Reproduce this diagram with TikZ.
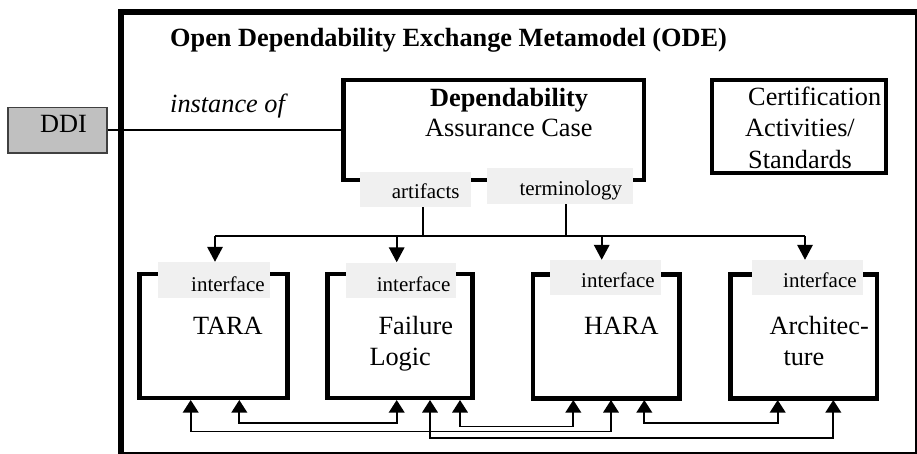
\documentclass[tikz,border=0pt]{standalone}
\usepackage{fontspec}
\setmainfont{Liberation Serif}
\usetikzlibrary{arrows.meta,fit}
\definecolor{lblgray}{RGB}{240,240,240}
\definecolor{ddigray}{RGB}{192,192,192}
\newcommand\fbig{\fontsize{26.3}{31}\selectfont}
\newcommand\fsmall{\fontsize{21}{25}\selectfont}
\begin{document}
\begin{tikzpicture}[x=1pt,y=-1pt,
  txt/.style={anchor=base west, inner sep=0pt, font=\fbig},
  stxt/.style={anchor=base west, inner sep=0pt, font=\fsmall},
  frame/.style={draw, line width=4.5pt, inner sep=0pt},
  lblbox/.style={fill=lblgray, inner sep=0pt},
  bus/.style={line width=1.8pt},
  downarrow/.style={bus, -{Triangle[width=15.5pt,length=15pt]}},
  bothway/.style={bus, {Triangle[width=15.5pt,length=12.5pt]}-{Triangle[width=15.5pt,length=12.5pt]}}
]
\useasboundingbox (0,0) rectangle (917,454);

% outer metamodel frame
\node[fit={(120.5,12) (918,455)}, draw, line width=6pt, inner sep=0pt] (ode) {};
\node[txt, font=\fbig\bfseries] (title) at (170,47) {Open Dependability Exchange Metamodel (ODE)};

% DDI
\node[fit={(8,107.5) (107,153)}, draw=black!75, line width=1.3pt, fill=ddigray, inner sep=0pt] (ddi) {};
\node[txt] (dditxt) at (40,132.5) {DDI};

% Dependability assurance case
\node[frame, fit={(343.5,80) (644,180)}] (dep) {};
\node[txt, font=\fbig\bfseries] (depA) at (430,107) {Dependability};
\node[txt] (depB) at (425,137) {Assurance Case};
\draw[line width=1.5pt] (ddi.east) -- (ddi.east -| dep.west);
\node[txt, font=\fbig\itshape] (inst) at (170,113) {instance of};

% Certification
\node[frame, line width=4pt, fit={(712,79.7) (885.5,172.7)}] (cert) {};
\node[txt] (certA) at (748,106) {Certification};
\node[txt] (certB) at (745,136.7) {Activities/};
\node[txt] (certC) at (748,168.3) {Standards};

% artifacts / terminology labels
\node[lblbox, fit={(360,172) (471,207)}] (art) {};
\node[stxt] (artT) at (391.7,198.5) {artifacts};
\node[lblbox, fit={(487,168) (633,204)}] (term) {};
\node[stxt] (termT) at (519.3,196) {terminology};

% modules
\node[frame, fit={(139.5,274) (287.5,398)}] (tara) {};
\node[frame, fit={(327.5,274) (472.5,398)}] (fl) {};
\node[frame, fit={(533,274.5) (679.5,398.5)}] (hara) {};
\node[frame, fit={(730.5,274.5) (877,398.5)}] (arch) {};

\node[lblbox, fit={(158,262) (270,298)}] (taraI) {};
\node[lblbox, fit={(346,262.5) (456,297.5)}] (flI) {};
\node[lblbox, fit={(550,260) (661,295)}] (haraI) {};
\node[lblbox, fit={(752,260) (863,295)}] (archI) {};
\node[stxt] (taraIT) at (191,291) {interface};
\node[stxt] (flIT) at (376.7,291) {interface};
\node[stxt] (haraIT) at (581,287.5) {interface};
\node[stxt] (archIT) at (783,287.5) {interface};

\node[txt] (taraT) at (193,334) {TARA};
\node[txt] (flT1) at (378.3,334) {Failure};
\node[txt] (flT2) at (369.3,365) {Logic};
\node[txt] (haraT) at (584,334) {HARA};
\node[txt] (archT1) at (769.3,334) {Architec-};
\node[txt] (archT2) at (783.3,365) {ture};

% distribution bus
\coordinate (b1) at (215,236);
\coordinate (b2) at (396.7,236);
\coordinate (b3) at (601.7,236);
\coordinate (b4) at (805,236);
\draw[bus] (b1) -- (b4);
\draw[bus] ([xshift=7.5pt]art.south) -- ([xshift=7.5pt]art.south |- b1);
\draw[bus] ([xshift=6pt]term.south) -- ([xshift=6pt]term.south |- b1);
\draw[downarrow] (b1) -- (b1 |- taraI.north);
\draw[downarrow] (b2) -- (b2 |- flI.north);
\draw[downarrow] (b3) -- (b3 |- haraI.north);
\draw[downarrow] (b4) -- (b4 |- archI.north);

% ports at the bottom of modules
\coordinate (t1) at (190.7,400);
\coordinate (t2) at (239.3,400);
\coordinate (f1) at (396.7,400);
\coordinate (f2) at (430,400);
\coordinate (f3) at (460,400);
\coordinate (h1) at (573.3,400);
\coordinate (h2) at (611,400);
\coordinate (h3) at (644.3,400);
\coordinate (a1) at (777.7,400);
\coordinate (a2) at (833.3,400);

\draw[bothway] (t2) -- ++(0,23.3) -| (f1);
\draw[bothway] (t1) -- ++(0,31.5) -| (h2);
\draw[bothway] (f3) -- ++(0,26.5) -| (h1);
\draw[bothway] (f2) -- ++(0,38) -| (a2);
\draw[bothway] (h3) -- ++(0,23.3) -| (a1);
\end{tikzpicture}
\end{document}
